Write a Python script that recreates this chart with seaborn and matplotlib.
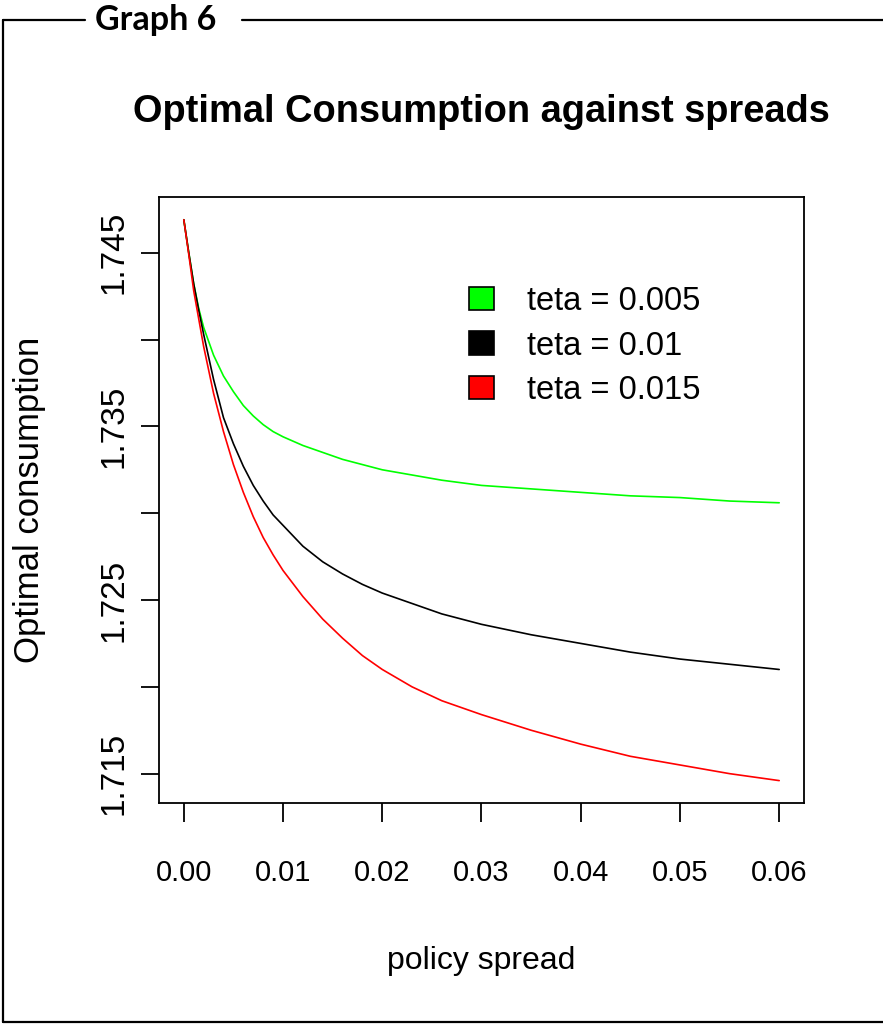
import numpy as np
import pandas as pd
import matplotlib
matplotlib.use("Agg")
import matplotlib.pyplot as plt
from matplotlib.patches import Patch
from matplotlib.lines import Line2D
import seaborn as sns

# ---- data ----
spread = [0.0, 0.0005, 0.001, 0.0015, 0.002, 0.003, 0.004, 0.005, 0.006, 0.007, 0.008,
          0.009, 0.01, 0.012, 0.014, 0.016, 0.018, 0.02, 0.023, 0.026, 0.03, 0.035,
          0.04, 0.045, 0.05, 0.055, 0.06]
teta_0005 = [1.7469, 1.7450, 1.7432, 1.7418, 1.7407, 1.7391, 1.7379, 1.7370, 1.7362,
             1.7356, 1.7351, 1.7347, 1.7344, 1.7339, 1.7335, 1.7331, 1.7328, 1.7325,
             1.7322, 1.7319, 1.7316, 1.7314, 1.7312, 1.7310, 1.7309, 1.7307, 1.7306]
teta_001 = [1.7469, 1.7450, 1.7432, 1.7417, 1.7403, 1.7377, 1.7355, 1.7340, 1.7327,
            1.7316, 1.7307, 1.7299, 1.7293, 1.7281, 1.7272, 1.7265, 1.7259, 1.7254,
            1.7248, 1.7242, 1.7236, 1.7230, 1.7225, 1.7220, 1.7216, 1.7213, 1.7210]
teta_0015 = [1.7469, 1.7449, 1.7428, 1.7412, 1.7396, 1.7369, 1.7347, 1.7328, 1.7312,
             1.7298, 1.7286, 1.7276, 1.7267, 1.7252, 1.7239, 1.7228, 1.7218, 1.7210,
             1.7200, 1.7192, 1.7184, 1.7175, 1.7167, 1.7160, 1.7155, 1.7150, 1.7146]
series_labels = ["teta = 0.005", "teta = 0.01", "teta = 0.015"]
series_colors = ["#00FF00", "#000000", "#FF0000"]
x_ticks = [0.00, 0.01, 0.02, 0.03, 0.04, 0.05, 0.06]
x_ticklabels = ["0.00", "0.01", "0.02", "0.03", "0.04", "0.05", "0.06"]
y_ticks = [1.715, 1.720, 1.725, 1.730, 1.735, 1.740, 1.745]
y_ticklabels = ["1.715", "", "1.725", "", "1.735", "", "1.745"]

df = pd.concat([
    pd.DataFrame({"spread": spread, "cons": vals, "series": lab})
    for vals, lab in zip([teta_0005, teta_001, teta_0015], series_labels)
], ignore_index=True)

sns.set_style("white")
plt.rcParams["font.family"] = ["Liberation Sans", "DejaVu Sans"]
plt.rcParams.update({"text.color": "black", "axes.labelcolor": "black",
                     "xtick.color": "black", "ytick.color": "black"})

W, H = 883, 1025
fig = plt.figure(figsize=(W / 100, H / 100), dpi=100)
ax = fig.add_axes([159 / W, 1 - 803 / H, 645 / W, 606 / H])

sns.lineplot(data=df, x="spread", y="cons", hue="series", hue_order=series_labels,
             palette=series_colors, linewidth=1.2, legend=False, ax=ax)

ax.set_xlim(-0.0025, 0.0625)
ax.set_ylim(1.71331, 1.74821)
for s in ax.spines.values():
    s.set_color("black")
    s.set_linewidth(1.3)

fam = ["Liberation Sans", "DejaVu Sans"]

ax.set_xticks(x_ticks)
ax.set_xticklabels(x_ticklabels, fontsize=21, family=fam)
ax.set_yticks(y_ticks)
ax.set_yticklabels(y_ticklabels, fontsize=24, family=fam, rotation=90, va="center")
ax.tick_params(axis="x", direction="out", length=14, width=1.3, color="black", pad=26)
ax.tick_params(axis="y", direction="out", length=13, width=1.3, color="black", pad=8)
ax.tick_params(bottom=True, left=True)

ax.set_xlabel("policy spread", fontsize=23, family=fam, labelpad=43)
ax.set_ylabel("Optimal consumption", fontsize=25, family=fam, labelpad=38)

handles = [Patch(facecolor=c, edgecolor="black", linewidth=1.2) for c in series_colors]
ax.legend(handles, series_labels, loc="upper left", bbox_to_anchor=(0.46, 0.875),
          frameon=False, prop={"family": fam, "size": 23.5},
          handlelength=0.78, handleheight=0.72, handletextpad=1.0, labelspacing=0.42,
          borderaxespad=0)

fig.text(481.5 / W, 1 - 112 / H, "Optimal Consumption against spreads",
         ha="center", va="center", fontsize=27.4, fontweight="bold", family=fam)

# outer frame with caption
lw = 1.6
fig.add_artist(Line2D([3 / W, 3 / W], [1 - 20 / H, 1 - 1022 / H], color="black", lw=lw,
                      transform=fig.transFigure))
fig.add_artist(Line2D([3 / W, 85 / W], [1 - 20 / H, 1 - 20 / H], color="black", lw=lw,
                      transform=fig.transFigure))
fig.add_artist(Line2D([242 / W, 1.0], [1 - 20 / H, 1 - 20 / H], color="black", lw=lw,
                      transform=fig.transFigure))
fig.add_artist(Line2D([3 / W, 1.0], [1 - 1022 / H, 1 - 1022 / H], color="black", lw=lw,
                      transform=fig.transFigure))
fig.text(95 / W, 1 - 20 / H, "Graph 6", ha="left", va="center", fontsize=24.5,
         fontweight="bold", family=["Lato", "Open Sans", "DejaVu Sans"])

fig.savefig("out.png", dpi=100)
